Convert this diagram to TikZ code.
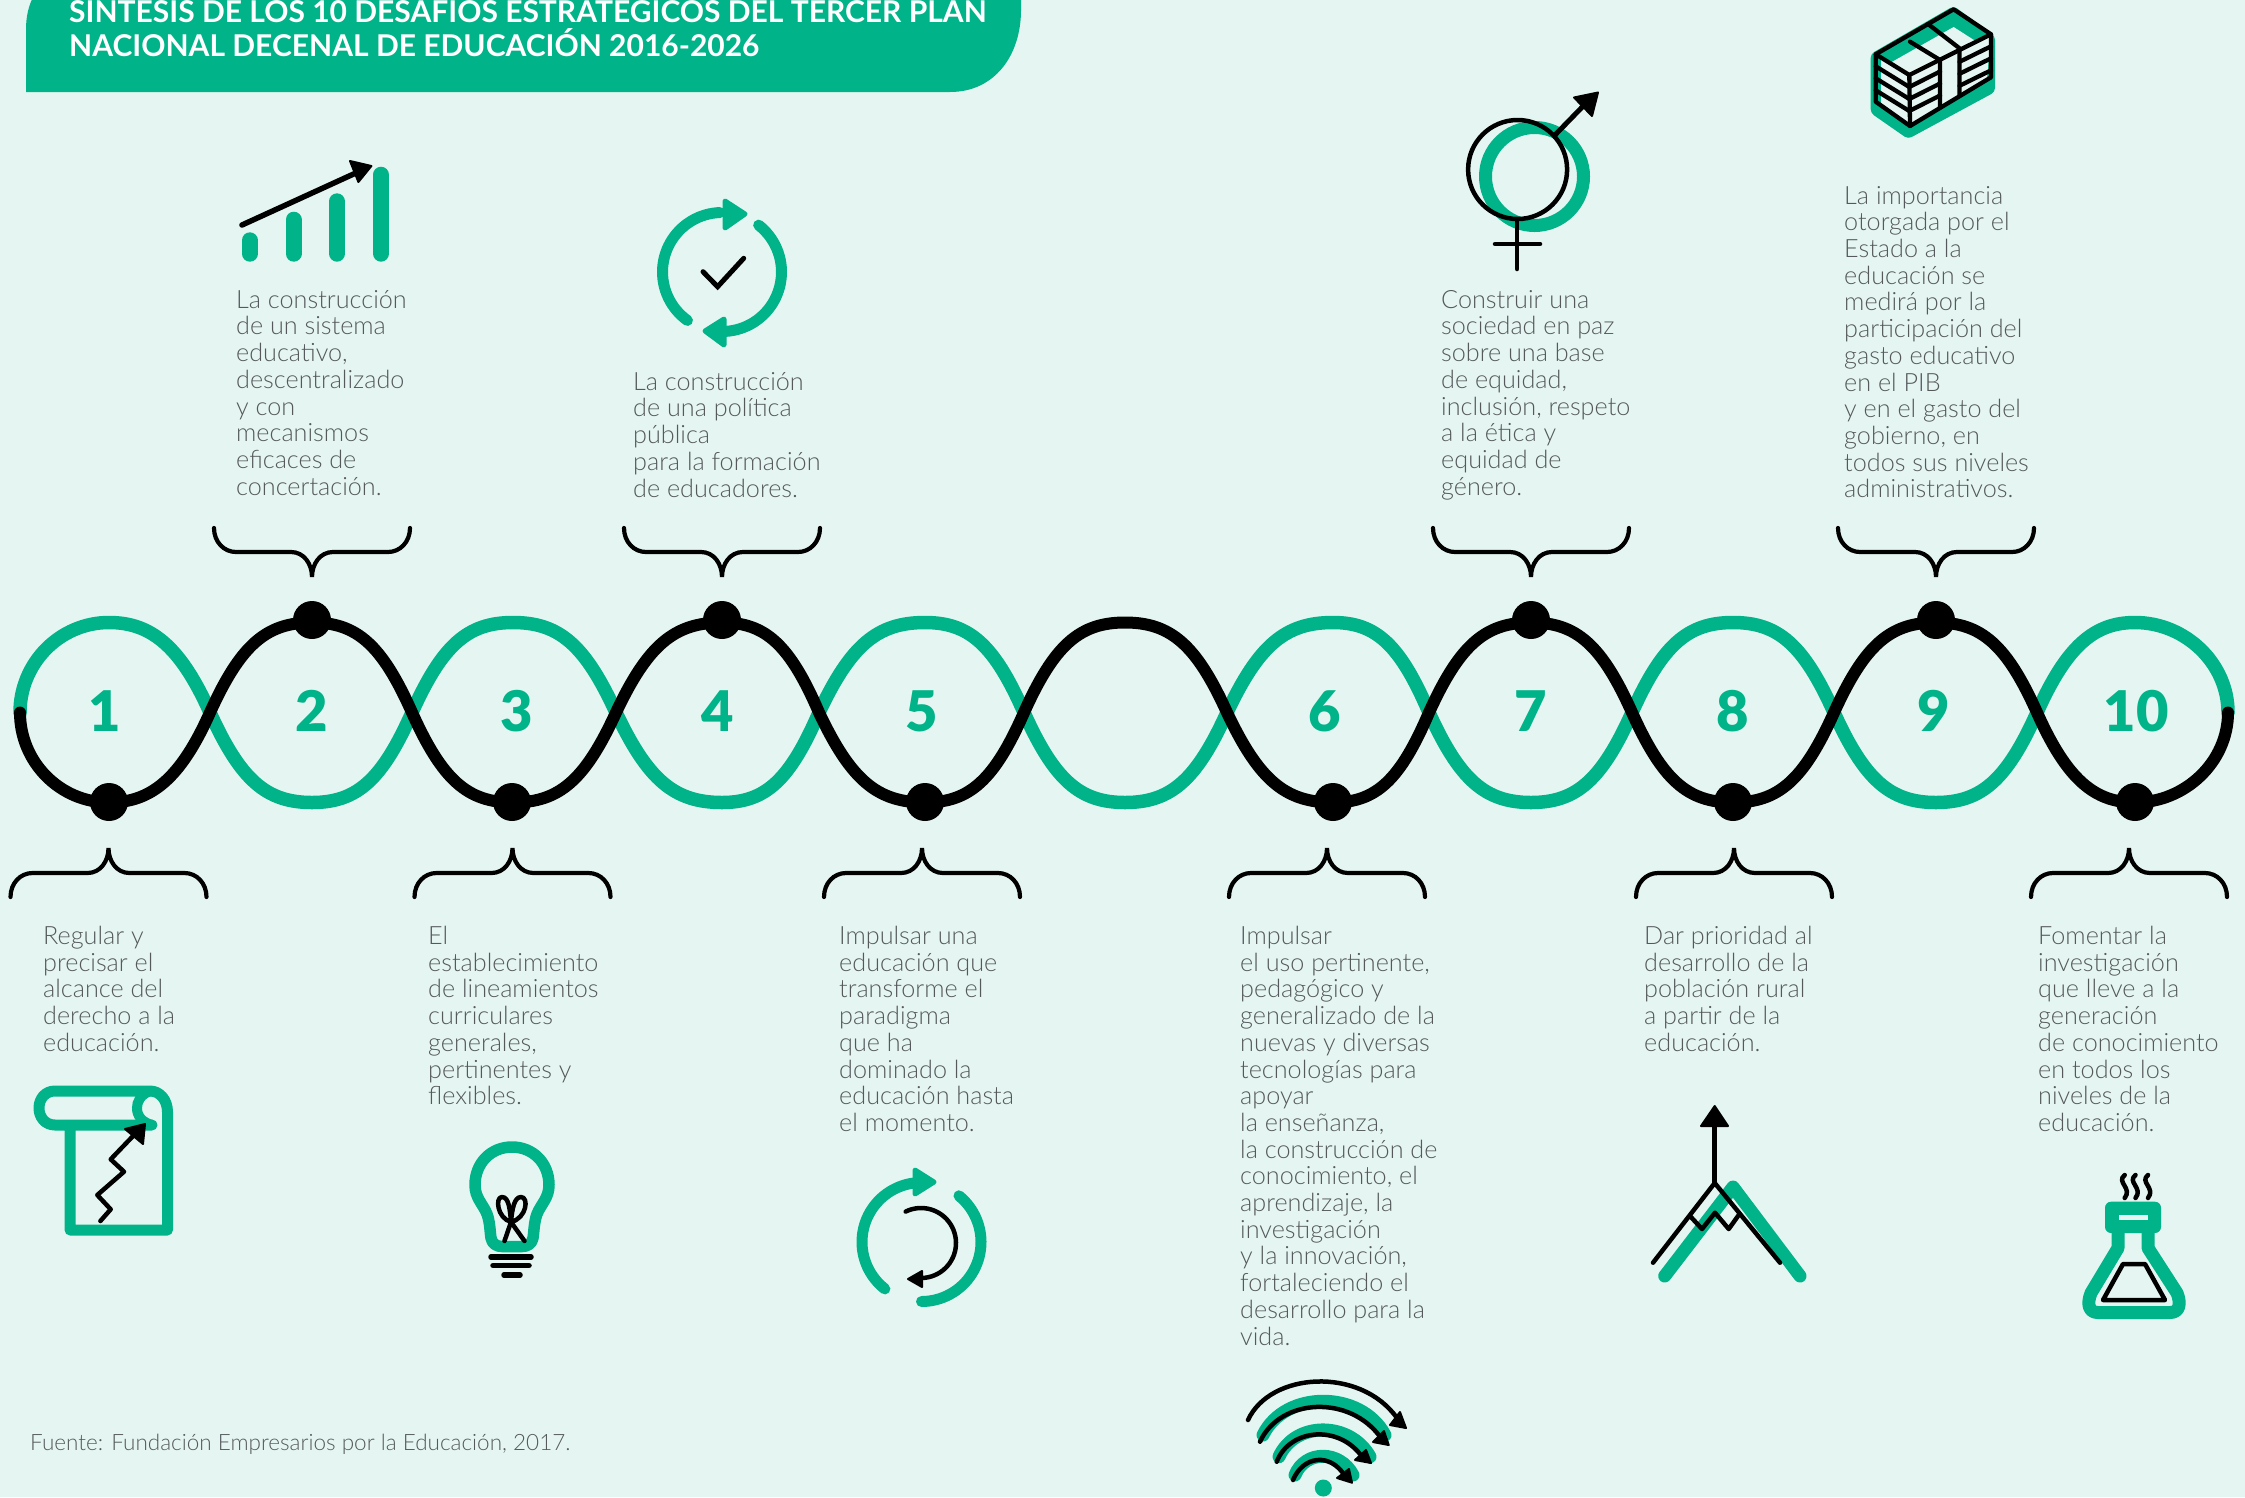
\documentclass[tikz,border=0pt]{standalone}
\usepackage{fontspec}
\setmainfont{Lato}
\newfontfamily\lightf{Lato Light}
\newfontfamily\blackf{Lato Black}
\definecolor{gr}{HTML}{00B388}
\definecolor{bgc}{HTML}{E5F6F2}
\definecolor{txt}{HTML}{55595B}
\newcommand{\wA}{90}
\newcommand{\wY}{712.5}
% lobe: from crossing #1, peak at #2, to crossing #3, side #4 (1 up, -1 down)
\newcommand{\lobe}[4]{(#1,\wY) .. controls ({#1+.3*(#2-#1)},{\wY-#4*.75*\wA}) and ({#1+.55*(#2-#1)},{\wY-#4*\wA}) .. (#2,{\wY-#4*\wA}) .. controls ({#3-.55*(#3-#2)},{\wY-#4*\wA}) and ({#3-.3*(#3-#2)},{\wY-#4*.75*\wA}) .. (#3,\wY)}
\newcommand{\wave}[1]{
  (20,\wY) .. controls (20,{\wY-#1*.55*\wA}) and (60,{\wY-#1*\wA}) .. (109,{\wY-#1*\wA}) .. controls (150,{\wY-#1*\wA}) and (180,{\wY-#1*.75*\wA}) .. (210,\wY)
  \lobe{210}{312}{412}{-#1} \lobe{412}{513}{616}{#1} \lobe{616}{722}{819}{-#1}
  \lobe{819}{925}{1024}{#1} \lobe{1024}{1125}{1227}{-#1} \lobe{1227}{1333}{1429}{#1} \lobe{1429}{1531}{1632}{-#1}
  \lobe{1632}{1733}{1834}{#1} \lobe{1834}{1936}{2037}{-#1}
  (2037,\wY) .. controls (2067,{\wY-#1*.75*\wA}) and (2095,{\wY-#1*\wA}) .. (2135,{\wY-#1*\wA}) .. controls (2185,{\wY-#1*\wA}) and (2228,{\wY-#1*.55*\wA}) .. (2228,\wY)
}
% brace: tip at (#1,#2), sign #3: -1 = tip up (arms below), 1 = tip down (arms above)
\newcommand{\brc}[3]{\draw[bracestyle] ({#1-98},{#2-#3*49}) .. controls ({#1-98},{#2-#3*35}) and ({#1-88},{#2-#3*25}) .. ({#1-76},{#2-#3*25}) -- ({#1-21},{#2-#3*25}) .. controls ({#1-8},{#2-#3*25}) and (#1,{#2-#3*13}) .. (#1,#2) .. controls (#1,{#2-#3*13}) and ({#1+8},{#2-#3*25}) .. ({#1+21},{#2-#3*25}) -- ({#1+76},{#2-#3*25}) .. controls ({#1+88},{#2-#3*25}) and ({#1+98},{#2-#3*35}) .. ({#1+98},{#2-#3*49});}
\tikzset{
  bracestyle/.style={draw=black,line width=4.2pt,line cap=round},
  txtblock/.style={anchor=north west,align=left,inner sep=0pt,text=txt,font=\lightf\fontsize{25.2}{26.7}\selectfont},
  num/.style={text=gr,inner sep=0pt,font=\blackf\fontsize{56}{56}\selectfont},
  wdot/.style={circle,fill=black,minimum size=38pt,inner sep=0pt},
  gline/.style={draw=gr,line width=11pt,line cap=round,line join=round},
  kline/.style={draw=black,line width=4.5pt,line cap=round,line join=round},
  khead/.style={fill=black,draw=black,line width=2pt,line join=round},
  ghead/.style={fill=gr,draw=gr,line width=5pt,line join=round}
}
\begin{document}
\begin{tikzpicture}[x=1pt,y=-1pt]
\useasboundingbox (0,0) rectangle (2245,1497);
\fill[bgc] (0,0) rectangle (2245,1497);
% banner
\fill[gr] (34,-5) .. controls (29,5) and (26,15) .. (26,30) -- (26,92) -- (950,92) .. controls (995,92) and (1021,55) .. (1021,10) -- (1021,-20) -- (34,-20) -- cycle;
\node[anchor=base west,inner sep=0pt,text=white,font=\fontsize{30}{33}\bfseries\selectfont] (title1) at (69,22) {SÍNTESIS DE LOS 10 DESAFÍOS ESTRATÉGICOS DEL TERCER PLAN};
\node[anchor=base west,inner sep=0pt,text=white,font=\fontsize{30}{33}\bfseries\selectfont] (title2) at (69,56) {NACIONAL DECENAL DE EDUCACIÓN 2016-2026};
% waves
\draw[draw=gr,line width=13.5pt,line cap=round,line join=round] \wave{1};
\draw[draw=black,line width=12pt,line cap=round,line join=round] \wave{-1};
% dots
\node[wdot] (d1) at (109,802) {};
\node[wdot] (d2) at (312,620) {};
\node[wdot] (d3) at (512,802) {};
\node[wdot] (d4) at (722,620) {};
\node[wdot] (d5) at (925,802) {};
\node[wdot] (d6) at (1333,802) {};
\node[wdot] (d7) at (1531,620) {};
\node[wdot] (d8) at (1733,802) {};
\node[wdot] (d9) at (1936,620) {};
\node[wdot] (d10) at (2135,802) {};
% numbers
\node[num] (n1) at (104.5,711) {1};
\node[num] (n2) at (312,711) {2};
\node[num] (n3) at (517,711) {3};
\node[num] (n4) at (718,711) {4};
\node[num] (n5) at (922,711) {5};
\node[num] (n6) at (1325,711) {6};
\node[num] (n7) at (1531,711) {7};
\node[num] (n8) at (1733,711) {8};
\node[num] (n9) at (1934,711) {9};
\node[num] (n10) at (2136,711) {10};
% braces
\brc{108.5}{848}{-1}\brc{512.5}{848}{-1}\brc{922}{848}{-1}\brc{1327}{848}{-1}\brc{1734}{848}{-1}\brc{2129}{848}{-1}
\brc{312}{577}{1}\brc{722}{577}{1}\brc{1531}{577}{1}\brc{1936}{577}{1}
% texts
\node[txtblock] (t1) at (43,926) {Regular y\\precisar el\\alcance del\\derecho a la\\educación.};
\node[txtblock] (t2) at (236,290) {La construcción\\de un sistema\\educativo,\\descentralizado\\y con\\mecanismos\\eficaces de\\concertación.};
\node[txtblock] (t3) at (428,926) {El\\establecimiento\\de lineamientos\\curriculares\\generales,\\pertinentes y\\flexibles.};
\node[txtblock] (t4) at (633,372) {La construcción\\de una política\\pública\\para la formación\\de educadores.};
\node[txtblock] (t5) at (839,926) {Impulsar una\\educación que\\transforme el\\paradigma\\que ha\\dominado la\\educación hasta\\el momento.};
\node[txtblock] (t6) at (1240,926) {Impulsar\\el uso pertinente,\\pedagógico y\\generalizado de la\\nuevas y diversas\\tecnologías para\\apoyar\\la enseñanza,\\la construcción de\\conocimiento, el\\aprendizaje, la\\investigación\\y la innovación,\\fortaleciendo el\\desarrollo para la\\vida.};
\node[txtblock] (t7) at (1441,290) {Construir una\\sociedad en paz\\sobre una base\\de equidad,\\inclusión, respeto\\a la ética y\\equidad de\\género.};
\node[txtblock] (t8) at (1644,926) {Dar prioridad al\\desarrollo de la\\población rural\\a partir de la\\educación.};
\node[txtblock] (t9) at (1844,186) {La importancia\\otorgada por el\\Estado a la\\educación se\\medirá por la\\participación del\\gasto educativo\\en el PIB\\y en el gasto del\\gobierno, en\\todos sus niveles\\administrativos.};
\node[txtblock] (t10) at (2038,926) {Fomentar la\\investigación\\que lleve a la\\generación\\de conocimiento\\en todos los\\niveles de la\\educación.};
\node[anchor=base west,inner sep=0pt,text=txt,font=\lightf\fontsize{22.5}{25}\selectfont] (src) at (30,1450) {Fuente: Fundación Empresarios por la Educación, 2017.};
% --- icon 1: scroll
\draw[gline] (152,1125) -- (55,1125) .. controls (45,1125) and (39,1117) .. (39,1108) .. controls (39,1099) and (45,1091) .. (55,1091) -- (150,1091) .. controls (160,1091) and (167.5,1100) .. (167.5,1112) -- (167.5,1230) -- (70,1230) -- (70,1125);
\draw[gr,line width=10pt,line cap=round] (150,1091) .. controls (140,1095) and (137,1102) .. (137,1108) .. controls (137,1116) and (142,1122) .. (152,1125);
\draw[kline] (100.4,1221) -- (110.7,1209.3) -- (97.3,1195) -- (124,1171.7) -- (110.7,1159.3) -- (134,1135);
\fill[khead] (125,1129) -- (145,1124) -- (143,1144) -- cycle;
% --- icon 2: bars
\foreach \bx/\bt in {249.8/232.3, 293.5/211.7, 337/193.3, 381/166.7}
  \draw[gr,line width=16pt,line cap=round] (\bx,\bt+8) -- (\bx,253.7);
\draw[black,line width=5.5pt,line cap=round] (242,225) -- (358,172);
\fill[khead] (350,161) -- (371.4,166) -- (358.4,182) -- cycle;
% --- icon 3: bulb
\draw[gr,line width=11.5pt,line join=round,fill=none] (512,1147) .. controls (533,1147) and (549,1163) .. (549,1185) .. controls (549,1198) and (541,1204) .. (537,1214) .. controls (534,1222) and (534,1232) .. (533,1238) .. controls (532,1244) and (527,1246.5) .. (522,1246.5) -- (502,1246.5) .. controls (497,1246.5) and (492,1244) .. (491,1238) .. controls (490,1232) and (490,1222) .. (487,1214) .. controls (483,1204) and (475,1198) .. (475,1185) .. controls (475,1163) and (491,1147) .. (512,1147) -- cycle;
\draw[kline] (524.5,1241) -- (511,1222) .. controls (497,1218) and (495,1197) .. (502,1197) .. controls (509,1197) and (510,1210) .. (511,1222);
\draw[kline] (504.5,1241) -- (511,1222) .. controls (527,1218) and (529,1197) .. (521,1197) .. controls (514,1197) and (512,1210) .. (511,1222);
\draw[kline,line width=5.5pt] (491,1257) -- (531,1257);
\draw[kline,line width=5.5pt] (493,1265.5) -- (529,1265.5);
\draw[kline,line width=5.5pt] (504,1275) -- (520,1275);
% --- icon 4: cycle + check
\draw[gline,domain=125.5:268,samples=40] plot ({722+59.5*cos(\x)},{272+59.5*sin(\x)});
\draw[gline,domain=-52:90,samples=40] plot ({722+59.5*cos(\x)},{272+59.5*sin(\x)});
\fill[ghead] (725,201) -- (745,214) -- (725,228) -- cycle;
\fill[ghead] (724,319) -- (705,331) -- (724,345) -- cycle;
\draw[black,line width=5pt,line cap=round] (703,271.7) -- (717.6,286.7) -- (743.7,258.3);
% --- icon 5: cycle
\draw[gline,domain=128:262,samples=40] plot ({921.5+59.5*cos(\x)},{1242+59.5*sin(\x)});
\draw[gline,domain=-51:90,samples=40] plot ({921.5+59.5*cos(\x)},{1242+59.5*sin(\x)});
\fill[ghead] (915,1170) -- (934,1182) -- (915,1194) -- cycle;
\draw[kline,domain=-116:88,samples=40] plot ({921+35*cos(\x)},{1243+35*sin(\x)});
\fill[khead] (922,1271) -- (908,1279) -- (922,1287) -- cycle;
% --- icon 6: wifi
\draw[gr,line width=13pt,line cap=round] (1263,1435) .. controls (1285,1390) and (1361,1390) .. (1385,1435);
\draw[gr,line width=13pt,line cap=round] (1279,1456.7) .. controls (1295,1421) and (1350,1421) .. (1370,1456.7);
\draw[gr,line width=13pt,line cap=round] (1295,1475) .. controls (1305,1450) and (1340,1450) .. (1353,1475);
\fill[gr] (1323.3,1488) circle (8.5);
\draw[kline] (1248,1420) .. controls (1270,1372) and (1360,1366) .. (1397,1418);
\fill[khead] (1400,1412) -- (1406,1428) -- (1390,1425) -- cycle;
\draw[kline] (1260,1441.7) .. controls (1280,1398) and (1350,1394) .. (1381,1438);
\fill[khead] (1384,1431) -- (1388.7,1445) -- (1373,1442) -- cycle;
\draw[kline] (1276.7,1461.7) .. controls (1290,1428) and (1340,1424) .. (1363,1458);
\fill[khead] (1366,1450) -- (1371,1463) -- (1355,1460) -- cycle;
\draw[kline] (1293,1480) .. controls (1303,1456) and (1330,1452) .. (1345,1476);
\fill[khead] (1349,1469) -- (1352,1482.7) -- (1337,1478) -- cycle;
% --- icon 7: gender
\draw[gr,line width=13pt] (1534.5,176.5) circle (49);
\draw[black,line width=4.5pt] (1517.6,169.5) circle (49.5);
\draw[kline] (1517,220) -- (1517,269);
\draw[kline] (1495,244) -- (1540,244);
\draw[black,line width=5pt] (1555,135) -- (1590,99);
\fill[khead] (1574,97.5) -- (1598,92.5) -- (1592,116) -- cycle;
% --- icon 8: mountain
\draw[gr,line width=13pt,line cap=round,line join=round] (1664.7,1276) -- (1733,1187) -- (1800,1276);
\draw[kline] (1653,1262.7) -- (1714.7,1183) -- (1780,1262.7);
\draw[kline] (1690,1216) -- (1702,1229) -- (1715,1212.7) -- (1728.7,1229) -- (1738.7,1215);
\draw[kline] (1714.7,1183) -- (1714.7,1126);
\fill[khead] (1701,1126) -- (1714.7,1106) -- (1728,1126) -- cycle;
% --- icon 9: money
\fill[gr,rounded corners=4pt] (1953.6,6) -- (1995,36) -- (1995,92) -- (1908,139) -- (1870.6,113) -- (1870.6,54) -- cycle;
\fill[bgc] (1890,63) -- (1953.6,27) -- (1977,42) -- (1909,75) -- cycle;
\fill[bgc] (1881,58) -- (1909,75) -- (1991,34.3) -- (1987,78) -- (1910,124) -- (1881,103) -- cycle;
\begin{scope}[black,line width=4.3pt,line join=round,line cap=round]
\draw (1875.7,54.3) -- (1953.6,9.3) -- (1991,34.3) -- (1991,77.3) -- (1910,126) -- (1875.7,101.7) -- cycle;
\draw (1875.7,54.3) -- (1909.3,75) -- (1910,126);
\draw (1909.3,75) -- (1991,34.3);
\draw (1910,41.7) -- (1940,60) -- (1940,107.8);
\draw (1928,24) -- (1959.5,48.3) -- (1959.5,96);
\foreach \o in {12,24,36}{
  \draw (1875.7,54.3+\o) -- (1909.3,75+\o);
  \draw (1909.3,75+\o) -- (1940,59.5+\o);
  \draw (1959.5,49.8+\o) -- (1991,34.3+\o);
}
\end{scope}
% --- icon 10: flask
\draw[gr,line width=13pt,line join=round] (2118,1233) -- (2118,1248) -- (2091,1293) .. controls (2087,1303) and (2088,1312.5) .. (2098,1312.5) -- (2170,1312.5) .. controls (2180,1312.5) and (2181,1303) .. (2177,1293) -- (2148,1248) -- (2148,1233);
\fill[gr,rounded corners=6pt] (2105,1201.7) rectangle (2161,1233);
\fill[bgc] (2118.7,1215) rectangle (2148,1220);
\draw[black,line width=4.5pt,line join=round] (2123,1264) -- (2145,1264) -- (2165,1300) -- (2103,1300) -- cycle;
\foreach \sx in {2124.7,2135.5,2148}
  \draw[kline] (\sx,1175) .. controls (\sx-9,1182) and (\sx+8,1188) .. (\sx,1198);
\end{tikzpicture}
\end{document}
